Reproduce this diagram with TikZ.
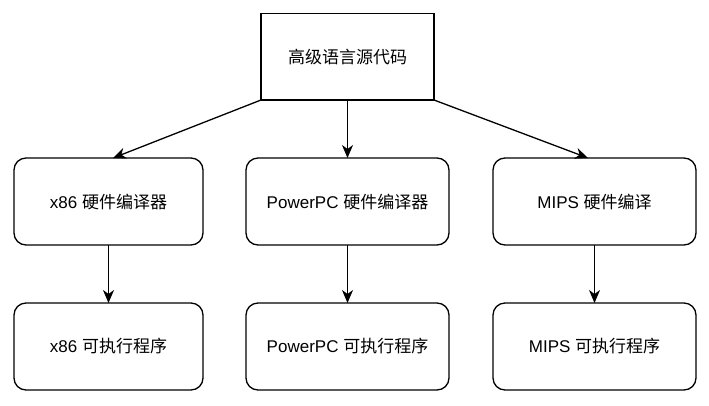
\documentclass[tikz,border=0pt]{standalone}
\usepackage{fontspec}
\setmainfont{Liberation Sans}
\newfontfamily\cjk{Noto Sans CJK SC}
\usetikzlibrary{arrows.meta,calc}
\begin{document}
\begin{tikzpicture}[x=1pt,y=-1pt,
  every node/.style={font=\fontsize{17pt}{20pt}\selectfont, inner sep=0pt, outer sep=0pt},
  topbox/.style={draw, line width=1.3pt, minimum width=173pt, minimum height=86.5pt},
  rbox/.style={draw, line width=1.3pt, rounded corners=12pt, minimum width=#1, minimum height=87pt},
  conn/.style={line width=1.3pt, -{Stealth[length=13pt,width=11pt,inset=4pt]}}]
\useasboundingbox (0,0) rectangle (709,405);
\node[topbox] (top) at (347.5,56.75) {{\cjk 高级语言源代码}};
\node[rbox=189pt] (l1) at (108.5,201.5) {x86 {\cjk 硬件编译器}};
\node[rbox=203pt] (m1) at (347.5,201.5) {PowerPC {\cjk 硬件编译器}};
\node[rbox=203pt] (r1) at (594.5,201.5) {MIPS {\cjk 硬件编译}};
\node[rbox=189pt] (l2) at (108.5,346.5) {x86 {\cjk 可执行程序}};
\node[rbox=203pt] (m2) at (347.5,346.5) {PowerPC {\cjk 可执行程序}};
\node[rbox=203pt] (r2) at (594.5,346.5) {MIPS {\cjk 可执行程序}};
\draw[conn] (top.south west) -- ($(l1.north)+(4.5,0)$);
\draw[conn] (top.south) -- (m1.north);
\draw[conn] (top.south east) -- ($(r1.north)+(-6.5,0)$);
\draw[conn] (l1.south) -- (l2.north);
\draw[conn] (m1.south) -- (m2.north);
\draw[conn] (r1.south) -- (r2.north);
\end{tikzpicture}
\end{document}
